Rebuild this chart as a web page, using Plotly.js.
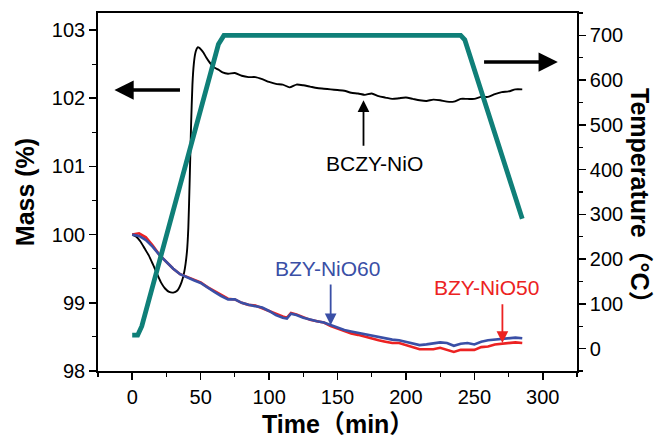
<!DOCTYPE html>
<html>
<head>
<meta charset="utf-8">
<script src="https://cdn.plot.ly/plotly-3.0.1.min.js"></script>
<style>html,body{margin:0;padding:0;background:#fff;}#chart{width:655px;height:437px;}</style>
</head>
<body>
<div id="chart"></div>
<script>
// ---- Data ----
const bczyTime = [0,3,6,9,12,15,18,21,24,27,30,33,36,38,40,41,42,43,44,45,46,47,48,49,50,52,54,56,58,60,63,66,70,75,80,85,90,95,100,105,110,115,120,125,130,135,140,145,150,155,160,165,170,175,180,185,190,195,200,205,210,215,220,225,230,235,240,245,250,255,260,265,270,275,280,285];
const bczyMass = [100.0,99.97,99.9,99.8,99.7,99.57,99.43,99.3,99.21,99.16,99.15,99.18,99.3,99.45,99.75,100.1,100.8,101.6,102.2,102.5,102.65,102.72,102.75,102.74,102.72,102.67,102.6,102.54,102.49,102.45,102.42,102.38,102.36,102.37,102.33,102.31,102.31,102.28,102.24,102.21,102.2,102.16,102.2,102.19,102.17,102.15,102.14,102.13,102.12,102.11,102.08,102.07,102.05,102.07,102.03,102.01,101.99,102.0,102.01,101.99,101.97,101.96,101.98,101.97,101.95,101.95,101.99,101.99,101.99,102.02,102.02,102.06,102.09,102.1,102.13,102.13];

const bzyTime = [0,5,10,15,20,25,30,35,40,45,50,55,60,65,70,75,80,85,90,95,100,105,110,113,116,120,125,130,135,140,145,150,155,160,165,170,175,180,185,190,195,200,205,210,215,220,225,230,235,240,245,250,255,260,265,270,275,280,285];
const nio60Mass = [100.0,99.98,99.92,99.82,99.7,99.6,99.5,99.42,99.37,99.33,99.29,99.22,99.16,99.1,99.05,99.05,99.0,98.97,98.95,98.93,98.88,98.82,98.78,98.77,98.84,98.82,98.78,98.75,98.73,98.71,98.67,98.63,98.6,98.58,98.56,98.54,98.51,98.49,98.48,98.46,98.45,98.43,98.41,98.38,98.39,98.4,98.42,98.41,98.37,98.4,98.41,98.39,98.43,98.45,98.46,98.47,98.48,98.49,98.48];
const nio50Mass = [100.0,100.02,99.96,99.84,99.7,99.6,99.5,99.42,99.38,99.34,99.3,99.23,99.17,99.11,99.06,99.05,99.0,98.97,98.96,98.92,98.88,98.83,98.8,98.78,98.85,98.83,98.79,98.75,98.73,98.71,98.66,98.62,98.58,98.55,98.53,98.5,98.47,98.45,98.43,98.41,98.41,98.38,98.35,98.32,98.32,98.32,98.34,98.31,98.28,98.31,98.31,98.31,98.35,98.36,98.39,98.4,98.41,98.42,98.41];

const tempTime = [0,4,7,63,67,240,243,285];
const tempVal  = [30,30,50,680,700,700,690,290];

const xTicks = [0,50,100,150,200,250,300];
const yTicks = [98,99,100,101,102,103];
const y2Ticks = [0,100,200,300,400,500,600,700];

// ---- Styles ----
const FONT = 'Liberation Sans, Arial, Noto Sans CJK SC, sans-serif';
const TEAL = '#0f7f78', BLUE = '#3a4fa6', RED = '#ec2222';

const traces = [
  {x: tempTime, y: tempVal, yaxis: 'y2', mode: 'lines', line: {color: TEAL, width: 4.8}},
  {x: bczyTime, y: bczyMass, mode: 'lines', line: {color: 'black', width: 1.9, shape: 'spline', smoothing: 0.6}},
  {x: bzyTime, y: nio50Mass, mode: 'lines', line: {color: RED, width: 2.6}},
  {x: bzyTime, y: nio60Mass, mode: 'lines', line: {color: BLUE, width: 2.6}}
];

const axisCommon = {
  showgrid: false, zeroline: false, showline: true, linecolor: 'black', linewidth: 1.8,
  ticks: 'outside', ticklen: 7, tickwidth: 1.5, tickcolor: 'black',
  tickfont: {family: FONT, size: 20, color: 'black'}
};

const layout = {
  width: 655, height: 437,
  margin: {l: 98, r: 78, t: 13, b: 66},
  paper_bgcolor: 'white', plot_bgcolor: 'white',
  showlegend: false,
  xaxis: Object.assign({}, axisCommon, {
    range: [-25, 325], tickvals: xTicks, mirror: true,
    minor: {dtick: 25, ticklen: 4, tickwidth: 1.2, tickcolor: 'black', ticks: 'outside', showgrid: false}
  }),
  yaxis: Object.assign({}, axisCommon, {
    range: [98, 103.25], tickvals: yTicks,
    minor: {dtick: 0.5, ticklen: 4, tickwidth: 1.2, tickcolor: 'black', ticks: 'outside', showgrid: false}
  }),
  yaxis2: Object.assign({}, axisCommon, {
    overlaying: 'y', side: 'right', range: [-50, 750], tickvals: y2Ticks,
    minor: {dtick: 50, ticklen: 4, tickwidth: 1.2, tickcolor: 'black', ticks: 'outside', showgrid: false}
  }),
  annotations: [
    // axis titles
    {xref: 'paper', yref: 'paper', x: 0.5, y: -0.148, xanchor: 'center', yanchor: 'middle', showarrow: false,
     text: '<b>Time（min）</b>', font: {family: FONT, size: 25, color: 'black'}},
    {xref: 'paper', yref: 'paper', x: -0.152, y: 0.5, xanchor: 'center', yanchor: 'middle', textangle: -90, showarrow: false,
     text: '<b>Mass (%)</b>', font: {family: FONT, size: 25, color: 'black'}},
    {xref: 'paper', yref: 'paper', x: 1.1315, y: 0.472, xanchor: 'center', yanchor: 'middle', textangle: 90, showarrow: false,
     text: '<b>Temperature（°C）</b>', font: {family: FONT, size: 25, color: 'black'}},
    // big direction arrows
    {x: -13, y: 102.12, ax: 36, ay: 102.12, axref: 'x', ayref: 'y', text: '', showarrow: true,
     arrowhead: 2, arrowsize: 1.1, arrowwidth: 3.5, arrowcolor: 'black'},
    {x: 311, y: 102.53, ax: 256, ay: 102.53, axref: 'x', ayref: 'y', text: '', showarrow: true,
     arrowhead: 2, arrowsize: 1.1, arrowwidth: 3.5, arrowcolor: 'black'},
    // BCZY-NiO label
    {x: 169, y: 101.97, ax: 169, ay: 101.28, axref: 'x', ayref: 'y', text: '', showarrow: true,
     arrowhead: 2, arrowsize: 1.3, arrowwidth: 1.8, arrowcolor: 'black'},
    {x: 177, y: 101.05, showarrow: false, text: 'BCZY-NiO', font: {family: FONT, size: 21, color: 'black'}},
    // BZY-NiO60
    {x: 145, y: 98.67, ax: 145, ay: 99.29, axref: 'x', ayref: 'y', text: '', showarrow: true,
     arrowhead: 2, arrowsize: 1.3, arrowwidth: 1.8, arrowcolor: BLUE},
    {x: 143, y: 99.51, showarrow: false, text: 'BZY-NiO60', font: {family: FONT, size: 21, color: BLUE}},
    // BZY-NiO50
    {x: 270.5, y: 98.41, ax: 270.5, ay: 99.0, axref: 'x', ayref: 'y', text: '', showarrow: true,
     arrowhead: 2, arrowsize: 1.3, arrowwidth: 1.8, arrowcolor: RED},
    {x: 259, y: 99.23, showarrow: false, text: 'BZY-NiO50', font: {family: FONT, size: 21, color: RED}}
  ]
};

Plotly.newPlot('chart', traces, layout, {displayModeBar: false, staticPlot: true});
</script>
</body>
</html>
